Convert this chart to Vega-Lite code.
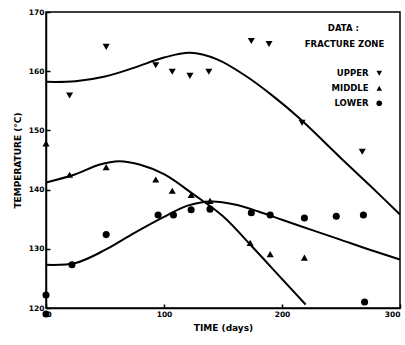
{
  "$schema": "https://vega.github.io/schema/vega-lite/v6.json",
  "width": 354,
  "height": 296,
  "autosize": {"type": "none"},
  "padding": {"left": 46, "top": 12, "right": 5, "bottom": 37},
  "background": "white",
  "config": {
    "view": {"stroke": "black", "strokeWidth": 1.5},
    "font": "DejaVu Sans",
    "axis": {
      "domainColor": "black", "domainWidth": 1.5, "tickColor": "black", "tickWidth": 1.5,
      "labelColor": "black", "titleColor": "black", "grid": false,
      "labelFont": "DejaVu Sans", "labelFontWeight": "bold", "labelFontSize": 7.5,
      "titleFont": "DejaVu Sans", "titleFontWeight": "bold", "titleFontSize": 9
    }
  },
  "datasets": {
    "obs": [
      {"zone": "UPPER", "day": 20, "temp": 155.9},
      {"zone": "UPPER", "day": 51, "temp": 164.1},
      {"zone": "UPPER", "day": 93, "temp": 161.0},
      {"zone": "UPPER", "day": 107, "temp": 159.9},
      {"zone": "UPPER", "day": 122, "temp": 159.2},
      {"zone": "UPPER", "day": 138, "temp": 159.9},
      {"zone": "UPPER", "day": 174, "temp": 165.1},
      {"zone": "UPPER", "day": 189, "temp": 164.6},
      {"zone": "UPPER", "day": 217, "temp": 151.3},
      {"zone": "UPPER", "day": 268, "temp": 146.4},
      {"zone": "MIDDLE", "day": 0, "temp": 147.8},
      {"zone": "MIDDLE", "day": 20, "temp": 142.5},
      {"zone": "MIDDLE", "day": 51, "temp": 143.8},
      {"zone": "MIDDLE", "day": 93, "temp": 141.7},
      {"zone": "MIDDLE", "day": 107, "temp": 139.8},
      {"zone": "MIDDLE", "day": 123, "temp": 139.1},
      {"zone": "MIDDLE", "day": 139, "temp": 138.1},
      {"zone": "MIDDLE", "day": 173, "temp": 131.0},
      {"zone": "MIDDLE", "day": 190, "temp": 129.1},
      {"zone": "MIDDLE", "day": 219, "temp": 128.5},
      {"zone": "LOWER", "day": 0, "temp": 122.2},
      {"zone": "LOWER", "day": 0, "temp": 119.0},
      {"zone": "LOWER", "day": 22, "temp": 127.3},
      {"zone": "LOWER", "day": 51, "temp": 132.4},
      {"zone": "LOWER", "day": 95, "temp": 135.7},
      {"zone": "LOWER", "day": 108, "temp": 135.7},
      {"zone": "LOWER", "day": 123, "temp": 136.6},
      {"zone": "LOWER", "day": 139, "temp": 136.7},
      {"zone": "LOWER", "day": 174, "temp": 136.1},
      {"zone": "LOWER", "day": 190, "temp": 135.7},
      {"zone": "LOWER", "day": 219, "temp": 135.2},
      {"zone": "LOWER", "day": 246, "temp": 135.5},
      {"zone": "LOWER", "day": 269, "temp": 135.7},
      {"zone": "LOWER", "day": 270, "temp": 121.0}
    ],
    "fit": [
      {"zone": "UPPER", "day": 0, "temp": 158.2},
      {"zone": "UPPER", "day": 25, "temp": 158.3},
      {"zone": "UPPER", "day": 50, "temp": 159.1},
      {"zone": "UPPER", "day": 75, "temp": 160.6},
      {"zone": "UPPER", "day": 100, "temp": 162.3},
      {"zone": "UPPER", "day": 122, "temp": 163.1},
      {"zone": "UPPER", "day": 145, "temp": 162.0},
      {"zone": "UPPER", "day": 170, "temp": 159.1},
      {"zone": "UPPER", "day": 193, "temp": 155.7},
      {"zone": "UPPER", "day": 215, "temp": 152.0},
      {"zone": "UPPER", "day": 250, "temp": 145.3},
      {"zone": "UPPER", "day": 275, "temp": 140.6},
      {"zone": "UPPER", "day": 300, "temp": 135.8},
      {"zone": "MIDDLE", "day": 0, "temp": 141.2},
      {"zone": "MIDDLE", "day": 25, "temp": 142.6},
      {"zone": "MIDDLE", "day": 45, "temp": 144.2},
      {"zone": "MIDDLE", "day": 62, "temp": 144.8},
      {"zone": "MIDDLE", "day": 80, "temp": 144.2},
      {"zone": "MIDDLE", "day": 100, "temp": 142.6},
      {"zone": "MIDDLE", "day": 125, "temp": 139.2},
      {"zone": "MIDDLE", "day": 150, "temp": 135.5},
      {"zone": "MIDDLE", "day": 175, "temp": 130.3},
      {"zone": "MIDDLE", "day": 200, "temp": 124.9},
      {"zone": "MIDDLE", "day": 220, "temp": 120.6},
      {"zone": "LOWER", "day": 0, "temp": 127.3},
      {"zone": "LOWER", "day": 25, "temp": 127.6},
      {"zone": "LOWER", "day": 50, "temp": 129.8},
      {"zone": "LOWER", "day": 75, "temp": 132.7},
      {"zone": "LOWER", "day": 100, "temp": 135.4},
      {"zone": "LOWER", "day": 120, "temp": 137.3},
      {"zone": "LOWER", "day": 140, "temp": 138.0},
      {"zone": "LOWER", "day": 160, "temp": 137.5},
      {"zone": "LOWER", "day": 180, "temp": 136.3},
      {"zone": "LOWER", "day": 200, "temp": 134.9},
      {"zone": "LOWER", "day": 225, "temp": 133.2},
      {"zone": "LOWER", "day": 250, "temp": 131.5},
      {"zone": "LOWER", "day": 275, "temp": 129.8},
      {"zone": "LOWER", "day": 300, "temp": 128.2}
    ],
    "notes": [
      {"label": "DATA :", "day": 252, "temp": 167.3},
      {"label": "FRACTURE ZONE", "day": 253, "temp": 164.6}
    ]
  },
  "layer": [
    {
      "data": {"name": "fit"},
      "mark": {"type": "line", "color": "black", "strokeWidth": 2, "interpolate": "catmull-rom", "clip": true},
      "encoding": {
        "x": {"field": "day", "type": "quantitative", "scale": {"domain": [0, 300]},
          "axis": {"values": [0, 100, 200, 300], "title": "TIME (days)", "tickSize": -4, "labelPadding": 6, "titlePadding": 6}},
        "y": {"field": "temp", "type": "quantitative", "scale": {"domain": [120, 170]},
          "axis": {"values": [120, 130, 140, 150, 160, 170], "title": "TEMPERATURE (°C)", "tickSize": -4, "labelPadding": 6, "titlePadding": 6}},
        "detail": {"field": "zone"}
      }
    },
    {
      "data": {"name": "obs"},
      "mark": {"type": "point", "filled": true, "color": "black", "size": 50, "opacity": 1, "clip": false},
      "encoding": {
        "x": {"field": "day", "type": "quantitative"},
        "y": {"field": "temp", "type": "quantitative"},
        "shape": {
          "field": "zone", "type": "nominal",
          "scale": {"domain": ["UPPER", "MIDDLE", "LOWER"], "range": ["triangle-down", "triangle-up", "circle"]},
          "legend": {
            "title": null, "orient": "none", "legendX": 329, "legendY": 57,
            "labelAlign": "right", "labelOffset": -15, "labelFontSize": 8.5, "labelFontWeight": "bold",
            "labelFont": "DejaVu Sans", "labelColor": "black", "symbolSize": 32, "symbolFillColor": "black",
            "symbolStrokeColor": "black", "rowPadding": 3
          }
        }
      }
    },
    {
      "data": {"name": "notes"},
      "mark": {"type": "text", "font": "DejaVu Sans", "fontWeight": "bold", "fontSize": 8.5, "color": "black", "align": "center", "baseline": "middle"},
      "encoding": {
        "x": {"field": "day", "type": "quantitative"},
        "y": {"field": "temp", "type": "quantitative"},
        "text": {"field": "label"}
      }
    }
  ]
}
